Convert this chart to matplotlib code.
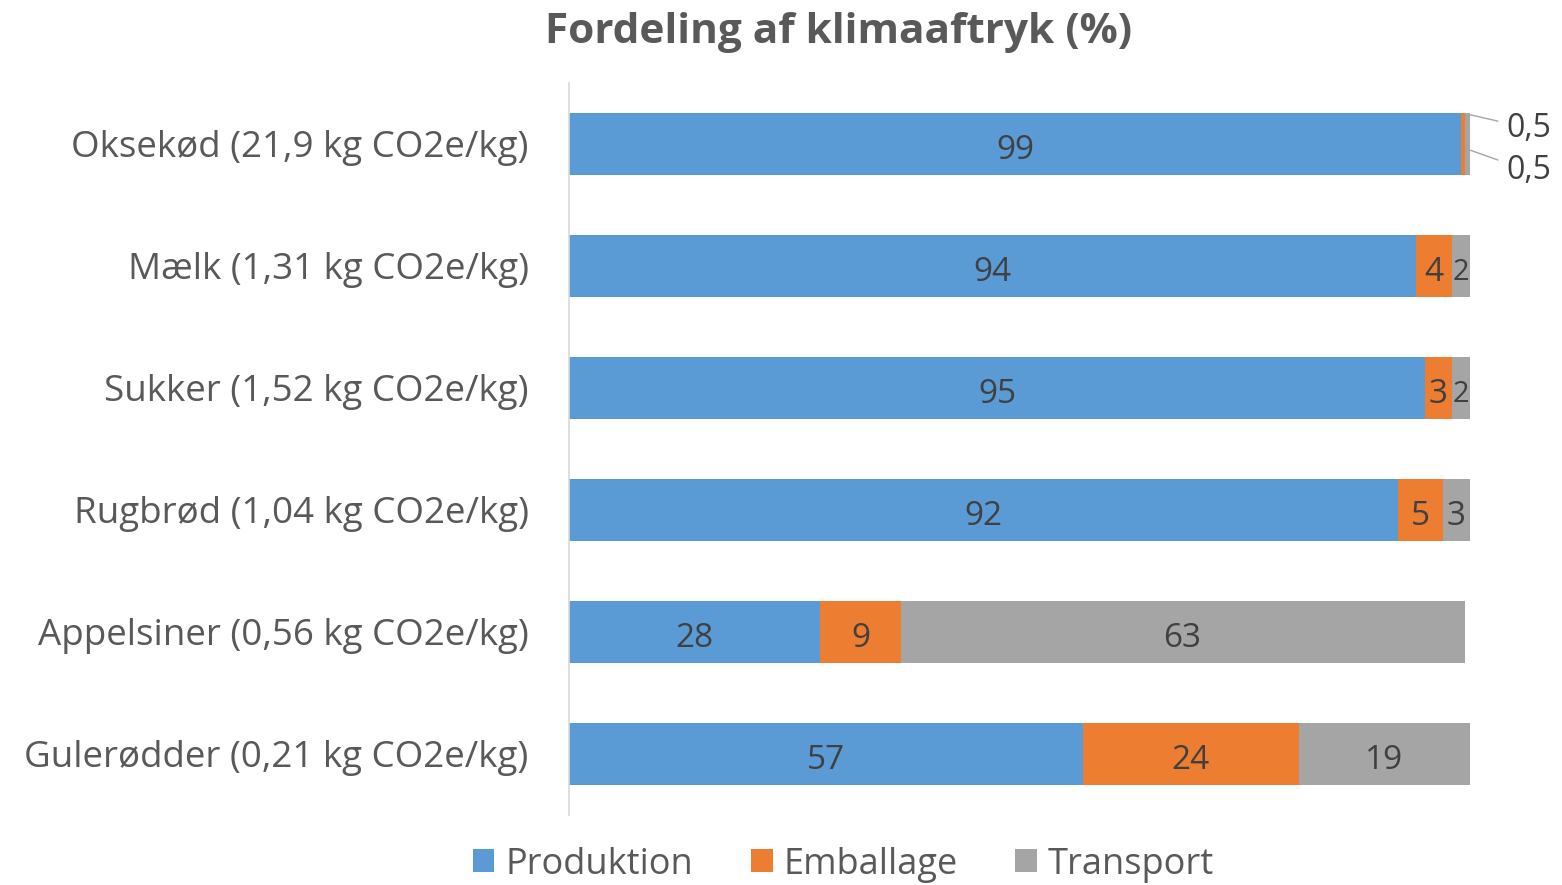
import matplotlib
matplotlib.use("Agg")
import matplotlib.pyplot as plt

plt.rcParams['font.family'] = ['Open Sans', 'DejaVu Sans']

categories = ["Oksekød (21,9 kg CO2e/kg)", "Mælk (1,31 kg CO2e/kg)",
              "Sukker (1,52 kg CO2e/kg)", "Rugbrød (1,04 kg CO2e/kg)",
              "Appelsiner (0,56 kg CO2e/kg)", "Gulerødder (0,21 kg CO2e/kg)"]
produktion = [99, 94, 95, 92, 27.9, 57]
emballage = [0.5, 4, 3, 5, 8.9, 24]
transport = [0.5, 2, 2, 3, 62.6, 19]
series = ["Produktion", "Emballage", "Transport"]
colors = ["#5B9BD5", "#ED7D31", "#A5A5A5"]

txt = "#595959"

def fmt(v):
    if v < 1:
        return ("%.1f" % v).replace(".", ",")
    return "%d" % round(v)

fig = plt.figure(figsize=(15.62, 8.85), dpi=100)
ax = fig.add_axes([569/1562, 1 - 815/885, (1470 - 569)/1562, 732/885])

y = list(range(len(categories)))
left = [0] * len(categories)
for name, vals, col in zip(series, [produktion, emballage, transport], colors):
    bars = ax.barh(y, vals, left=left, height=0.51, color=col, label=name)
    for i, v in enumerate(vals):
        if v >= 1:
            fs = 24 if v >= 3 else 21
            ax.text(left[i] + v / 2, i + 0.05, fmt(v), ha='center', va='center',
                    fontsize=fs, color="#404040")
    left = [l + v for l, v in zip(left, vals)]

# small labels with leader lines for Oksekød
ax.annotate(fmt(emballage[0]), xy=(produktion[0] + 0.4, -0.25), xytext=(104, -0.13),
            ha='left', va='center', fontsize=23, color="#404040",
            arrowprops=dict(arrowstyle='-', color="#A6A6A6", lw=1, shrinkA=4, shrinkB=0))
ax.annotate(fmt(transport[0]), xy=(100, 0.05), xytext=(104, 0.22),
            ha='left', va='center', fontsize=23, color="#404040",
            arrowprops=dict(arrowstyle='-', color="#A6A6A6", lw=1, shrinkA=4, shrinkB=0))

ax.set_xlim(0, 100)
ax.set_ylim(len(categories) - 0.5, -0.5)
ax.set_yticks(y)
ax.set_yticklabels(categories, fontsize=26.5, color=txt)
ax.tick_params(axis='y', length=0, pad=29)
ax.set_xticks([])
for s in ['top', 'right', 'bottom']:
    ax.spines[s].set_visible(False)
ax.spines['left'].set_color("#D9D9D9")
ax.spines['left'].set_linewidth(1.2)

fig.text(0.537, 0.963, "Fordeling af klimaaftryk (%)", ha='center', va='center',
         fontsize=30.5, fontweight='bold', color=txt)

fig.legend(loc='center', bbox_to_anchor=(0.54, 0.023), ncol=3, frameon=False,
           fontsize=26, labelcolor=txt, handlelength=0.6, handleheight=0.6,
           handletextpad=0.3, columnspacing=1.6)

fig.savefig("out.png", dpi=100)
